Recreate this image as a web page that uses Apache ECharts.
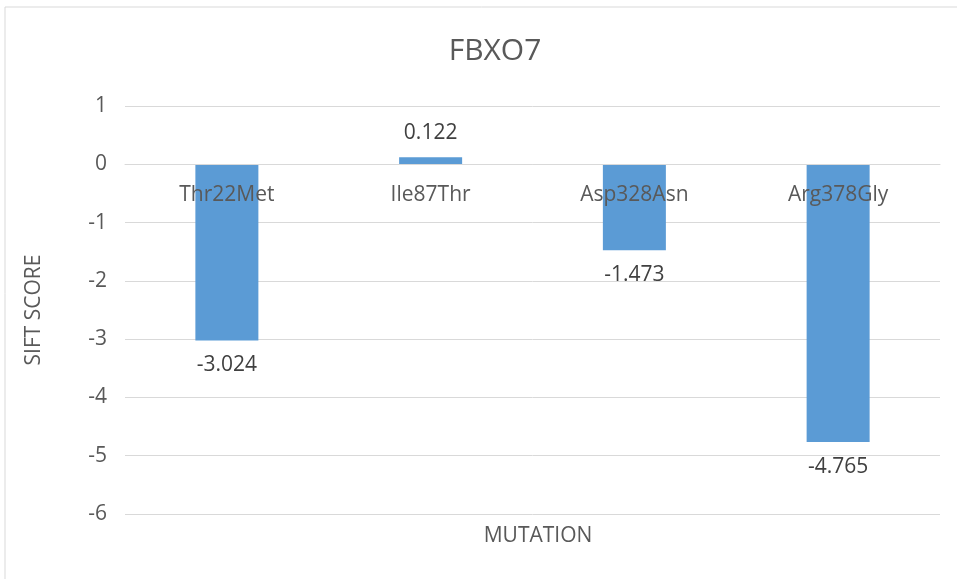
<!DOCTYPE html>
<html>
<head>
<meta charset="utf-8">
<script src="https://cdn.jsdelivr.net/npm/echarts@6/dist/echarts.min.js"></script>
<style>
  html, body { margin: 0; padding: 0; background: #fff; }
  #chart { width: 957px; height: 579px; }
</style>
</head>
<body>
<div id="chart"></div>
<script>
// data
const mutations = ['Thr22Met', 'Ile87Thr', 'Asp328Asn', 'Arg378Gly']
const siftScores = [-3.024, 0.122, -1.473, -4.765]
const yTicks = [1, 0, -1, -2, -3, -4, -5, -6]

const font = 'Open Sans'
const textColor = '#595959'

let myChart = echarts.init(document.getElementById('chart'))

// labels sit above positive bars, below negative ones
let barData = siftScores.map(v => ({
    value: v,
    label: { position: v >= 0 ? 'top' : 'bottom' }
}))

let option = {
    animation: false,
    textStyle: { fontFamily: font },
    graphic: [{
        type: 'rect',
        shape: { x: 5, y: 7, width: 1000, height: 700 },
        style: { fill: 'none', stroke: '#d9d9d9', lineWidth: 1 },
        silent: true
    }],
    title: [{
        text: 'FBXO7',
        left: 490,
        top: 31,
        textAlign: 'center',
        textStyle: { color: textColor, fontSize: 30, fontWeight: 'normal', fontFamily: font }
    }, {
        text: 'MUTATION',
        left: 533,
        top: 521,
        textAlign: 'center',
        textStyle: { color: textColor, fontSize: 21, fontWeight: 'normal', fontFamily: font }
    }],
    grid: {
        left: 125,
        right: 17,
        top: 106,
        bottom: 65
    },
    xAxis: {
        type: 'category',
        data: mutations,
        // category names sit just under the zero line, inside the plot
        position: 'top',
        offset: -58.3,
        axisLine: { show: true, onZero: false, lineStyle: { color: '#d9d9d9' } },
        axisTick: { show: false },
        axisLabel: { inside: true, color: textColor, fontSize: 21, margin: 20 },
        z: 5
    },
    yAxis: {
        type: 'value',
        min: yTicks[yTicks.length - 1],
        max: yTicks[0],
        interval: 1,
        name: 'SIFT SCORE',
        nameLocation: 'middle',
        nameRotate: 90,
        nameGap: 80,
        nameTextStyle: { color: textColor, fontSize: 21 },
        axisLine: { show: false },
        axisTick: { show: false },
        axisLabel: { color: textColor, fontSize: 21, margin: 18 },
        splitLine: { lineStyle: { color: '#d9d9d9', width: 1 } }
    },
    series: [{
        type: 'bar',
        data: barData,
        barWidth: 63,
        itemStyle: { color: '#5b9bd5' },
        label: {
            show: true,
            distance: 14,
            color: '#404040',
            fontSize: 21,
            formatter: p => p.value.toFixed(3)
        }
    }]
}
myChart.setOption(option)
</script>
</body>
</html>
